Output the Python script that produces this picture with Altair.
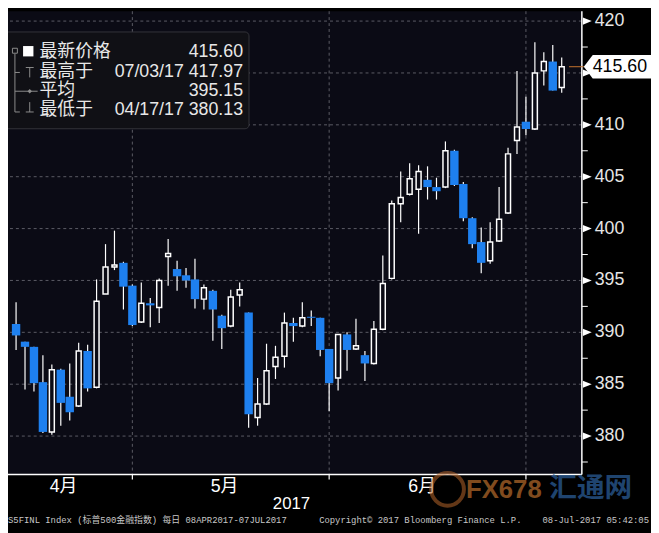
import altair as alt
import pandas as pd

# ---- data (S5FINL daily candles, 10 Apr 2017 .. 07 Jul 2017) ----
opens = [390.8, 389.1, 388.6, 385.2, 380.4, 386.4, 383.8, 382.9, 388.2, 384.7,
         393.7, 396.3, 396.7, 394.5, 391.0, 392.8, 392.4, 397.3, 396.1, 395.5,
         395.1, 393.2, 394.0, 391.6, 390.6, 393.6, 391.9, 381.8, 383.1, 386.7,
         387.7, 390.9, 390.6, 391.5, 391.4, 388.4, 385.6, 389.8, 388.4, 387.8,
         387.0, 390.3, 395.2, 402.4, 403.3, 403.8, 404.7, 404.0, 404.0, 407.5,
         404.3, 401.0, 398.7, 396.9, 398.8, 401.5, 408.5, 410.3, 409.6, 415.2,
         416.1, 413.6]
highs = [392.9, 389.1, 388.6, 387.8, 386.9, 386.5, 387.0, 389.0, 388.8, 395.1,
         398.5, 399.8, 396.8, 394.6, 394.8, 393.3, 395.2, 399.0, 396.9, 396.2,
         397.1, 394.6, 394.1, 391.7, 394.1, 394.8, 391.9, 385.6, 388.9, 388.7,
         391.9, 391.4, 392.9, 392.1, 391.4, 388.4, 389.8, 390.0, 391.3, 388.2,
         391.1, 397.4, 402.7, 405.5, 406.3, 406.1, 406.0, 404.9, 408.4, 407.6,
         404.5, 401.1, 400.1, 400.6, 404.0, 407.8, 415.2, 412.7, 417.97, 417.0,
         417.7, 416.5]
lows = [388.3, 384.5, 384.3, 380.3, 380.13, 381.0, 381.5, 382.8, 384.3, 384.6,
        393.7, 396.0, 392.2, 390.6, 390.9, 390.5, 390.9, 394.5, 394.0, 394.3,
        392.3, 392.2, 389.2, 388.4, 390.5, 392.5, 380.8, 381.0, 383.0, 385.5,
        386.6, 389.1, 390.5, 390.6, 387.7, 382.4, 384.4, 386.3, 388.3, 385.3,
        386.9, 390.2, 395.1, 400.6, 403.2, 399.5, 402.8, 402.8, 403.9, 404.1,
        400.7, 398.1, 395.7, 396.6, 398.7, 401.4, 407.2, 409.0, 409.5, 413.8,
        413.3, 413.1]
closes = [389.7, 388.6, 385.1, 380.4, 386.4, 383.2, 382.3, 388.2, 384.6, 393.0,
          396.3, 396.5, 394.4, 390.7, 392.8, 392.6, 395.0, 397.6, 395.4, 395.0,
          393.2, 394.3, 392.2, 390.4, 393.4, 394.1, 382.1, 383.1, 386.3, 387.6,
          390.9, 390.6, 391.4, 391.4, 388.3, 385.1, 389.8, 388.3, 388.7, 387.0,
          390.3, 394.7, 402.4, 403.0, 404.8, 405.5, 404.0, 403.6, 407.5, 404.2,
          401.0, 398.5, 396.7, 398.7, 400.9, 407.2, 409.8, 409.6, 415.0, 416.1,
          413.3, 415.6]

month_end_idx = [13, 35, 57]
month_labels = ["4月", "5月", "6月"]
month_label_pos = [5.3, 23.3, 45.4]
year_label = "2017"

grid_vals = [380, 385, 390, 395, 400, 405, 410, 415, 420]
minor_vals = [377.5, 382.5, 387.5, 392.5, 397.5, 402.5, 407.5, 412.5, 417.5]
last_price = [415.6]
last_text = ["415.60"]

legend_labels = ["最新价格", "最高于", "平均", "最低于"]
legend_values = ["415.60", "07/03/17 417.97", "395.15", "04/17/17 380.13"]

footer_left = "S5FINL Index (标普500金融指数) 每日 08APR2017-07JUL2017"
footer_mid = "Copyright© 2017 Bloomberg Finance L.P."
footer_right = "08-Jul-2017 05:42:05"

# ---- styling ----
BG = "#0b0b15"
BLUE = "#1e80ef"
GRID = "#5c5c66"
FONT = "Liberation Sans, Noto Sans CJK SC, sans-serif"
MONO = "Liberation Mono, Noto Sans CJK SC, monospace"
W, H = 581, 469
xs = alt.Scale(domain=[-0.35, 62.7], nice=False, zero=False)
ys = alt.Scale(domain=[376.3, 420.95], nice=False, zero=False)

df = pd.DataFrame({"i": list(range(len(opens))), "open": opens, "high": highs,
                   "low": lows, "close": closes})
grid_df = pd.DataFrame({"v": grid_vals})
lab_df = pd.DataFrame({"v": [v for v in grid_vals if v != 415],
                       "t": [str(v) for v in grid_vals if v != 415]})
minor_df = pd.DataFrame({"v": minor_vals})
mend_df = pd.DataFrame({"i": month_end_idx})
mlab_df = pd.DataFrame({"i": month_label_pos, "t": month_labels})
last_df = pd.DataFrame({"v": last_price, "t": last_text})
ONE = pd.DataFrame({"d": [0]})

X = alt.X("i:Q", scale=xs, axis=None)

hgrid = alt.Chart(grid_df).mark_rule(color=GRID, strokeDash=[3, 3], strokeWidth=1).encode(
    y=alt.Y("v:Q", scale=ys, axis=None))
vgrid = alt.Chart(mend_df).mark_rule(color=GRID, strokeDash=[3, 3], strokeWidth=1).encode(x=X)

wicks = alt.Chart(df).mark_rule(color="white", strokeWidth=1.2).encode(
    x=X, y=alt.Y("low:Q", scale=ys, axis=None), y2="high:Q")
down = alt.Chart(df).transform_filter("datum.close < datum.open").mark_bar(
    color=BLUE, size=8.5).encode(x=X, y=alt.Y("open:Q", scale=ys, axis=None), y2="close:Q")
up = alt.Chart(df).transform_filter("datum.close >= datum.open").mark_bar(
    fill=BG, stroke="white", strokeWidth=1.5, size=5).encode(
    x=X, y=alt.Y("open:Q", scale=ys, axis=None), y2="close:Q")

xline = alt.Chart(ONE).mark_rule(color="white", strokeWidth=1.5).encode(
    x=alt.value(0), x2=alt.value(W), y=alt.value(H))
yline = alt.Chart(ONE).mark_rule(color="white", strokeWidth=1.5).encode(
    x=alt.value(W), y=alt.value(0), y2=alt.value(H))
mticks = alt.Chart(mend_df).mark_rule(color="white", strokeWidth=1.2).encode(
    x=X, y=alt.value(H), y2=alt.value(H + 5))
minor = alt.Chart(minor_df).mark_rule(color="white", strokeWidth=1).encode(
    y=alt.Y("v:Q", scale=ys, axis=None), x=alt.value(W), x2=alt.value(W + 6))
major = alt.Chart(grid_df).mark_point(
    shape="M-1,-0.8L1,0L-1,0.8Z", size=81, filled=True, color="white", opacity=1).encode(
    y=alt.Y("v:Q", scale=ys, axis=None), x=alt.value(W + 5.5))
ylabels = alt.Chart(lab_df).mark_text(
    align="left", baseline="middle", fontSize=18, color="#e6e6e6", font=FONT).encode(
    y=alt.Y("v:Q", scale=ys, axis=None), x=alt.value(W + 13), text="t:N")

orange = alt.Chart(last_df).mark_rule(color="#c8742e", strokeWidth=1).encode(
    y=alt.Y("v:Q", scale=ys, axis=None), x=alt.value(568), x2=alt.value(583))
pricebox = alt.Chart(last_df).mark_point(
    shape="M-1,0L-0.735,-0.353L1,-0.353L1,0.353L-0.735,0.353Z", size=4624,
    filled=True, color="white", opacity=1, strokeWidth=0).encode(
    y=alt.Y("v:Q", scale=ys, axis=None), x=alt.value(617))
pricetext = alt.Chart(last_df).mark_text(
    align="left", baseline="middle", fontSize=18, color="black", font=FONT).encode(
    y=alt.Y("v:Q", scale=ys, axis=None), x=alt.value(592), text="t:N")

mlabels = alt.Chart(mlab_df).mark_text(
    align="center", baseline="middle", fontSize=18, color="white", font=FONT).encode(
    x=X, y=alt.value(482), text="t:N")
year = alt.Chart(ONE).mark_text(
    text=year_label, align="center", baseline="middle", fontSize=17, color="white",
    font=FONT).encode(x=alt.value(287), y=alt.value(499))

# ---- legend box ----
lbox = alt.Chart(ONE).mark_rect(fill="#101015", stroke="#34343a", strokeWidth=1,
                                cornerRadius=4).encode(
    x=alt.value(-5), x2=alt.value(244), y=alt.value(21), y2=alt.value(119))
row_y = [41, 62, 81, 100]
legend_layers = [lbox]
for ty, lt, vt in zip(row_y, legend_labels, legend_values):
    legend_layers.append(alt.Chart(ONE).mark_text(
        text=lt, align="left", baseline="middle", fontSize=18, color="#e8e8e8",
        font=FONT).encode(x=alt.value(32), y=alt.value(ty)))
    legend_layers.append(alt.Chart(ONE).mark_text(
        text=vt, align="right", baseline="middle", fontSize=18, color="#e8e8e8",
        font=FONT).encode(x=alt.value(238), y=alt.value(ty)))
ICON = "#8c8c8c"
def seg(x1, y1, x2, y2):
    return alt.Chart(ONE).mark_rule(color=ICON, strokeWidth=1).encode(
        x=alt.value(x1), x2=alt.value(x2), y=alt.value(y1), y2=alt.value(y2))
legend_layers += [
    alt.Chart(ONE).mark_point(shape="square", size=25, filled=False, color=ICON,
                              opacity=1, strokeWidth=1).encode(x=alt.value(7), y=alt.value(40)),
    alt.Chart(ONE).mark_point(shape="square", size=110, filled=True, color="white",
                              opacity=1).encode(x=alt.value(20.5), y=alt.value(40.5)),
    seg(7, 43, 7, 102),
    seg(7, 62, 12, 62), seg(18, 57, 26, 57), seg(22, 57, 22, 67),
    seg(7, 81, 30, 81),
    alt.Chart(ONE).mark_point(shape="diamond", size=20, filled=True, color=ICON,
                              opacity=1).encode(x=alt.value(22), y=alt.value(81)),
    seg(7, 102, 12, 102), seg(22, 92, 22, 102), seg(18, 102, 26, 102),
]

# ---- footer ----
footer = [
    alt.Chart(ONE).mark_text(text=footer_left, align="left", baseline="middle",
                             fontSize=9, color="#c8c8c8", font=MONO).encode(
        x=alt.value(0), y=alt.value(515)),
    alt.Chart(ONE).mark_text(text=footer_mid, align="left", baseline="middle",
                             fontSize=9, color="#c8c8c8", font=MONO).encode(
        x=alt.value(315), y=alt.value(515)),
    alt.Chart(ONE).mark_text(text=footer_right, align="right", baseline="middle",
                             fontSize=9, color="#c8c8c8", font=MONO).encode(
        x=alt.value(649), y=alt.value(515)),
]

# ---- watermark ----
watermark = [
    alt.Chart(ONE).mark_point(shape="circle", size=1100, filled=False, color="#b5652a",
                              strokeWidth=4, opacity=0.55).encode(x=alt.value(445), y=alt.value(484)),
    alt.Chart(ONE).mark_text(text="FX678", align="center", baseline="middle", fontSize=26,
                             fontWeight="bold", color="#b86c2c", opacity=0.7,
                             font="Liberation Sans").encode(
        x=alt.value(502), y=alt.value(485)),
    alt.Chart(ONE).mark_text(text="汇通网", align="center", baseline="middle", fontSize=28,
                             fontWeight="bold", color="#2a5b95", opacity=0.75,
                             font="Noto Sans CJK SC").encode(x=alt.value(590), y=alt.value(484)),
]

layers = [hgrid, vgrid, wicks, down, up, xline, yline, mticks, minor, major, ylabels,
          orange, pricebox, pricetext, mlabels, year] + legend_layers + footer + watermark

chart = alt.layer(*layers).properties(
    width=W, height=H,
    padding={"left": 0, "top": 0, "right": 70, "bottom": 56},
    autosize=alt.AutoSizeParams(type="none"),
    background="#000000",
).configure_view(fill=BG, stroke=None)

chart.save("out.html", embed_options={"renderer": "svg", "actions": False})
